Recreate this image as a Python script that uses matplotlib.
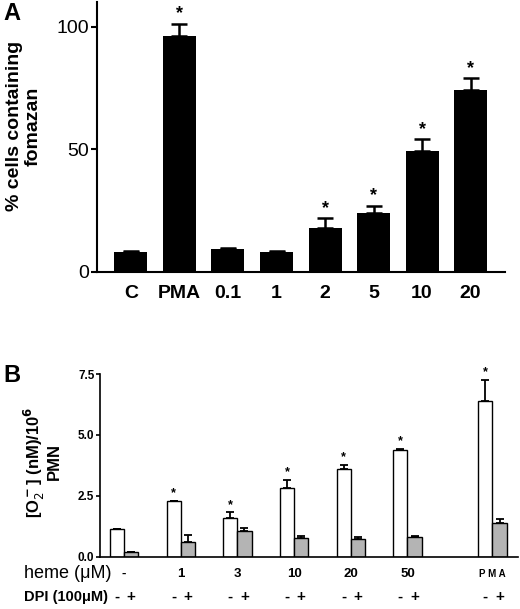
import numpy as np
import matplotlib
matplotlib.use("Agg")
import matplotlib.pyplot as plt
from matplotlib.transforms import blended_transform_factory

plt.rcParams['font.family'] = ['Liberation Sans', 'DejaVu Sans']

# panel A data - % cells containing formazan
a_labels = ['C', 'PMA', '0.1', '1', '2', '5', '10', '20']
a_values = [8.2, 96.3, 9.3, 8.2, 18.0, 24.2, 49.4, 74.3]
a_errors = [0.5, 4.9, 0.5, 0.5, 4.0, 2.8, 4.7, 4.7]
a_star = [False, True, False, False, True, True, True, True]

# panel B data - superoxide, without (-) and with (+) DPI
b_heme = ['-', '1', '3', '10', '20', '50', 'P M A']
b_pos = [0, 1, 2, 3, 4, 5, 6.5]
b_minus = [1.14, 2.29, 1.58, 2.83, 3.58, 4.36, 6.41]
b_minus_err = [0.0, 0.0, 0.25, 0.32, 0.19, 0.06, 0.86]
b_plus = [0.2, 0.59, 1.04, 0.78, 0.72, 0.81, 1.37]
b_plus_err = [0.0, 0.30, 0.14, 0.07, 0.09, 0.03, 0.17]
b_star = [False, True, True, True, True, True, True]

fig = plt.figure(figsize=(5.2, 6.09), dpi=100)

# ---- panel A ----
axA = fig.add_axes([97/520, 1-272/609, (505-97)/520, 270/609])
xa = np.arange(len(a_labels))
axA.bar(xa, a_values, width=0.68, color='black')
axA.errorbar(xa, a_values, yerr=[np.zeros(len(a_errors)), a_errors], fmt='none',
             ecolor='black', elinewidth=1.8, capsize=6, capthick=1.8)
for i in range(len(xa)):
    if a_star[i]:
        axA.annotate('*', (xa[i], a_values[i] + a_errors[i]), xytext=(0, 1),
                     textcoords='offset points', ha='center', va='bottom',
                     fontsize=13, fontweight='bold')
axA.set_xlim(-0.70, 7.71)
axA.set_ylim(0, 110)
axA.set_yticks([0, 50, 100])
axA.tick_params(axis='y', labelsize=14, length=4, width=1.5, pad=2)
axA.set_xticks([])
for s in ['top', 'right']:
    axA.spines[s].set_visible(False)
axA.spines['left'].set_linewidth(1.5)
axA.spines['bottom'].set_linewidth(1.5)
ta = blended_transform_factory(axA.transData, fig.transFigure)
for i, lab in enumerate(a_labels):
    axA.text(xa[i], 1-293/609, lab, transform=ta, ha='center', va='center',
             fontsize=14, fontweight='bold')
fig.text(24/520, 1-126/609, '% cells containing\nfomazan', rotation=90,
         ha='center', va='center', multialignment='center',
         fontsize=14, fontweight='bold', linespacing=1.1)
fig.text(3/520, 1-14/609, 'A', ha='left', va='center', fontsize=17, fontweight='bold')

# ---- panel B ----
axB = fig.add_axes([100/520, 1-556.7/609, (518-100)/520, 182.7/609])
xb = np.array(b_pos)
w = 0.25
axB.bar(xb - w/2, b_minus, width=w, color='white', edgecolor='black', linewidth=1)
axB.bar(xb + w/2, b_plus, width=w, color='#b4b4b4', edgecolor='black', linewidth=1)
axB.errorbar(xb - w/2, b_minus, yerr=[np.zeros(len(xb)), b_minus_err], fmt='none',
             ecolor='black', elinewidth=1.3, capsize=3, capthick=1.3)
axB.errorbar(xb + w/2, b_plus, yerr=[np.zeros(len(xb)), b_plus_err], fmt='none',
             ecolor='black', elinewidth=1.3, capsize=3, capthick=1.3)
for i in range(len(xb)):
    if b_star[i]:
        axB.annotate('*', (xb[i] - w/2, b_minus[i] + b_minus_err[i]), xytext=(0, 1),
                     textcoords='offset points', ha='center', va='bottom',
                     fontsize=9, fontweight='bold', annotation_clip=False)
axB.set_xlim(-0.423, 6.95)
axB.set_ylim(0, 7.5)
axB.set_yticks([0, 2.5, 5.0, 7.5])
axB.set_yticklabels(['0.0', '2.5', '5.0', '7.5'])
axB.tick_params(axis='y', labelsize=8.5, length=3, width=1.2, pad=1)
for t in axB.get_yticklabels():
    t.set_fontweight('bold')
axB.set_xticks([])
for s in ['top', 'right']:
    axB.spines[s].set_visible(False)
axB.spines['left'].set_linewidth(1.2)
axB.spines['bottom'].set_linewidth(1.2)
tb = blended_transform_factory(axB.transData, fig.transFigure)
for i, lab in enumerate(b_heme):
    fs = 7 if lab.startswith('P') else 9.5
    axB.text(xb[i], 1-574/609, lab, transform=tb, ha='center', va='center',
             fontsize=fs, fontweight='bold')
    axB.text(xb[i] - w/2, 1-597/609, '-', transform=tb, ha='center', va='center',
             fontsize=11, fontweight='bold')
    axB.text(xb[i] + w/2, 1-597/609, '+', transform=tb, ha='center', va='center',
             fontsize=11, fontweight='bold')
fig.text(24/520, 1-574/609, 'heme (\u03bcM)', ha='left', va='center', fontsize=13)
fig.text(24/520, 1-597/609, 'DPI (100\u03bcM)', ha='left', va='center',
         fontsize=10.5, fontweight='bold')
fig.text(42/520, 1-462/609, '[O$_2^{\\bf -}$] (nM)/10$^{\\bf 6}$\nPMN', rotation=90,
         ha='center', va='center', multialignment='center',
         fontsize=12, fontweight='bold', linespacing=1.05)
fig.text(3/520, 1-375/609, 'B', ha='left', va='center', fontsize=17, fontweight='bold')

fig.savefig('out.png', dpi=100)
